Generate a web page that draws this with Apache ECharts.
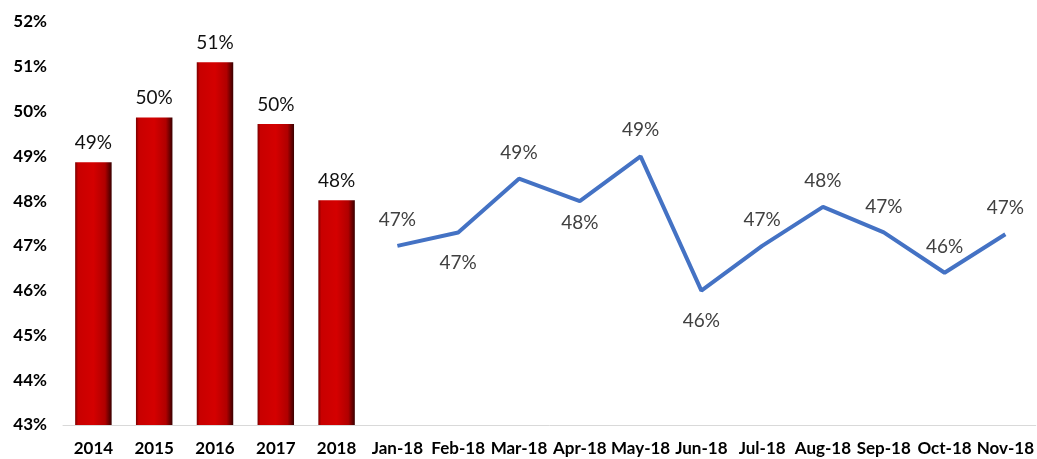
<!DOCTYPE html>
<html>
<head>
<meta charset="utf-8">
<script src="https://cdn.jsdelivr.net/npm/echarts@6/dist/echarts.min.js"></script>
<style>
html,body{margin:0;padding:0;background:#fff;}
#c{width:1037px;height:459px;}
</style>
</head>
<body>
<div id="c"></div>
<script>
var categories = ['2014','2015','2016','2017','2018','Jan-18','Feb-18','Mar-18','Apr-18','May-18','Jun-18','Jul-18','Aug-18','Sep-18','Oct-18','Nov-18'];
var yearValues = [48.87, 49.87, 51.1, 49.72, 48.02];
var monthValues = [47.0, 47.3, 48.5, 48.0, 49.0, 46.0, 47.0, 47.87, 47.3, 46.4, 47.26];
var monthLabelPos = ['top','bottom','top','bottom','top','bottom','top','top','top','top','top'];

var nYears = yearValues.length;
var barData = categories.map(function(c, i){ return i < nYears ? yearValues[i] : '-'; });
var lineData = categories.map(function(c, i){
  if (i < nYears) return '-';
  var k = i - nYears;
  var pos = monthLabelPos[k];
  var dist = pos === 'bottom' ? (categories[i] === 'Apr-18' ? 12 : 20) : 16;
  return { value: monthValues[k], label: { position: pos, distance: dist } };
});

var chart = echarts.init(document.getElementById('c'));
chart.setOption({
  animation: false,
  grid: { left: 63, right: 0, top: 22, bottom: 34, containLabel: false },
  xAxis: {
    type: 'category',
    data: categories,
    axisLine: { show: true, lineStyle: { color: '#d9d9d9', width: 1 } },
    axisTick: { show: false },
    axisLabel: { color: '#000', fontFamily: 'Lato', fontWeight: 'bold', fontSize: 17, margin: 15, interval: 0 }
  },
  yAxis: {
    type: 'value',
    min: 43, max: 52, interval: 1,
    axisLine: { show: false },
    axisTick: { show: false },
    splitLine: { show: false },
    axisLabel: { formatter: '{value}%', color: '#000', fontFamily: 'Lato', fontWeight: 'bold', fontSize: 17, margin: 16 }
  },
  series: [
    {
      type: 'bar',
      data: barData,
      barWidth: '60%',
      itemStyle: {
        color: new echarts.graphic.LinearGradient(0, 0, 1, 0, [
          { offset: 0, color: '#7a0000' },
          { offset: 0.08, color: '#c80000' },
          { offset: 0.5, color: '#d40000' },
          { offset: 0.82, color: '#b00000' },
          { offset: 1, color: '#3a0000' }
        ])
      },
      label: {
        show: true, position: 'top', distance: 10,
        formatter: function(p){ return Math.round(p.value) + '%'; },
        color: '#111', fontFamily: 'Lato', fontSize: 19
      }
    },
    {
      type: 'line',
      data: lineData,
      showSymbol: true,
      symbol: 'circle',
      symbolSize: 1,
      itemStyle: { color: 'rgba(0,0,0,0)' },
      lineStyle: { color: '#4472C4', width: 4 },
      label: {
        show: true, distance: 16,
        formatter: function(p){ return Math.round(p.value) + '%'; },
        color: '#404040', fontFamily: 'Lato', fontSize: 19
      }
    }
  ]
});
</script>
</body>
</html>
